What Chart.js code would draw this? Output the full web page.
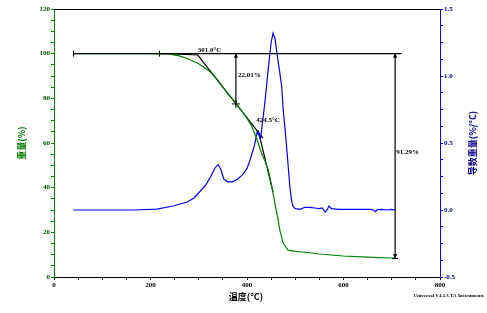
<!DOCTYPE html>
<html>
<head>
<meta charset="utf-8">
<script src="https://cdn.jsdelivr.net/npm/chart.js@4"></script>
<style>
  html, body { margin: 0; padding: 0; background: #fff; }
  #wrap { width: 487px; height: 313px; }
</style>
</head>
<body>
<div id="wrap"><canvas id="tga"></canvas></div>
<script>
// weight curve (%)
const weightTemps = [40, 100, 150, 200, 240, 260, 280, 300, 320, 330, 340, 350, 360, 375, 390, 400, 410, 420, 430, 437, 444, 450, 454, 460, 464, 468, 475, 485, 500, 516, 550, 599, 650, 696, 707];
const weightVals  = [100, 100, 100, 100, 99.8, 99, 97.5, 95.5, 92.5, 90.5, 88, 85, 82, 78.4, 74, 71, 67.5, 62, 55.5, 52, 48, 42, 37.6, 30.5, 26.4, 21, 15.2, 12, 11.5, 11.2, 10.3, 9.4, 8.9, 8.5, 8.5];

// derivative weight (%/°C)
const derivTemps = [40, 165, 213, 247, 276, 290, 303, 315, 325, 333, 340, 346, 352, 360, 370, 380, 390, 400, 406, 412, 416, 421, 425, 428, 432, 437, 442, 446, 450, 454, 458, 462, 467, 472, 475, 479, 483, 486, 489, 492, 495, 500, 510, 520, 530, 540, 550, 556, 562, 566, 570, 575, 590, 620, 655, 662, 666, 670, 680, 690, 700, 707];
const derivVals  = [0, 0, 0.007, 0.03, 0.06, 0.09, 0.14, 0.19, 0.25, 0.31, 0.34, 0.30, 0.23, 0.21, 0.21, 0.23, 0.26, 0.31, 0.37, 0.44, 0.49, 0.58, 0.56, 0.53, 0.65, 0.8, 0.98, 1.12, 1.25, 1.32, 1.28, 1.17, 1.05, 0.92, 0.75, 0.6, 0.43, 0.3, 0.17, 0.08, 0.03, 0.01, 0.005, 0.02, 0.02, 0.015, 0.01, 0.015, -0.015, 0.0, 0.03, 0.01, 0.005, 0.005, 0.005, 0.0, -0.012, 0.003, 0.005, 0.0, 0.005, 0.0];

// analysis construction lines
const baseTemps = [40, 720];
const baseVals = [100, 100];
const onsetTemps = [240, 298, 433];
const onsetVals = [100, 99.4, 62.2];
const steepTemps = [423, 454];
const steepVals = [65.8, 38];
const stepTemps = [377, 377];
const stepVals = [100, 77.5];
const totalTemps = [707, 707];
const totalVals = [100, 8.5];

const xTicks = [0, 200, 400, 600, 800];
const yTicks = [0, 20, 40, 60, 80, 100, 120];
const y2Ticks = [-0.5, 0, 0.5, 1.0, 1.5];

const GREEN = '#008000';
const BLUE = '#0000ff';
const tickFont = { family: 'Liberation Serif', size: 7, weight: 'bold' };

function pts(xs, ys) {
  return xs.map((x, i) => ({ x: x, y: ys[i] }));
}

function line(xs, ys, color, axis) {
  return {
    data: pts(xs, ys), yAxisID: axis, showLine: true, borderColor: color,
    borderWidth: 1.2, pointRadius: 0, tension: 0
  };
}

const extras = {
  id: 'extras',
  afterDatasetsDraw(chart) {
    const { ctx, chartArea: a, scales } = chart;
    const x = scales.x, y = scales.y;
    ctx.save();
    // top frame
    ctx.strokeStyle = '#000';
    ctx.lineWidth = 1;
    ctx.beginPath();
    ctx.moveTo(a.left, a.top + 0.5);
    ctx.lineTo(a.right, a.top + 0.5);
    ctx.stroke();

    // end ticks on baseline
    [40, 218].forEach(t => {
      const px = Math.round(x.getPixelForValue(t)) + 0.5;
      const py = y.getPixelForValue(100);
      ctx.beginPath();
      ctx.moveTo(px, py - 3);
      ctx.lineTo(px, py + 3);
      ctx.stroke();
    });

    function arrow(px, py, dir) {
      ctx.beginPath();
      ctx.moveTo(px, py);
      ctx.lineTo(px - 2, py + dir * 5);
      ctx.lineTo(px + 2, py + dir * 5);
      ctx.closePath();
      ctx.fillStyle = '#000';
      ctx.fill();
    }
    const sx = x.getPixelForValue(377);
    arrow(sx, y.getPixelForValue(100) - 1, 1);
    const my = y.getPixelForValue(77.5);
    ctx.beginPath();
    ctx.moveTo(sx - 4, my); ctx.lineTo(sx + 4, my);
    ctx.moveTo(sx, my - 4); ctx.lineTo(sx, my + 4);
    ctx.stroke();

    const tx = x.getPixelForValue(707);
    arrow(tx, y.getPixelForValue(100) - 1, 1);
    arrow(tx, y.getPixelForValue(8.5) + 1, -1);
    ctx.beginPath();
    ctx.moveTo(tx - 3, y.getPixelForValue(8.5) + 0.5);
    ctx.lineTo(tx + 3, y.getPixelForValue(8.5) + 0.5);
    ctx.stroke();

    // labels
    ctx.fillStyle = '#000';
    ctx.font = 'bold 7px "Liberation Serif"';
    ctx.textBaseline = 'alphabetic';
    ctx.textAlign = 'left';
    ctx.fillText('301.0°C', x.getPixelForValue(298), y.getPixelForValue(100) - 2);
    ctx.fillText('22.01%', sx + 2, y.getPixelForValue(89.5));
    ctx.fillText('424.5°C', x.getPixelForValue(419), y.getPixelForValue(69.5));
    ctx.fillText('91.29%', tx + 1, y.getPixelForValue(55));

    // axis titles
    ctx.font = 'bold 9px "Noto Sans CJK SC"';
    ctx.textAlign = 'center';
    ctx.textBaseline = 'middle';
    ctx.fillStyle = '#000';
    ctx.fillText('温度(°C)', 246, 297);

    ctx.save();
    ctx.translate(22, 143);
    ctx.rotate(-Math.PI / 2);
    ctx.fillStyle = GREEN;
    ctx.fillText('重量(%)', 0, 0);
    ctx.restore();

    ctx.save();
    ctx.translate(473, 143);
    ctx.rotate(-Math.PI / 2);
    ctx.fillStyle = '#00008b';
    ctx.fillText('导数重量(%/°C)', 0, 0);
    ctx.restore();

    ctx.font = 'bold 5px "Liberation Serif"';
    ctx.textAlign = 'right';
    ctx.fillStyle = '#000';
    ctx.fillText('Universal V4.5A TA Instruments', 484, 296);
    ctx.restore();
  }
};

new Chart(document.getElementById('tga'), {
  type: 'scatter',
  data: {
    datasets: [
      line(baseTemps, baseVals, '#000', 'y'),
      line(weightTemps, weightVals, GREEN, 'y'),
      line(derivTemps, derivVals, BLUE, 'y2'),
      line(onsetTemps, onsetVals, '#000', 'y'),
      line(steepTemps, steepVals, '#000', 'y'),
      line(stepTemps, stepVals, '#000', 'y'),
      line(totalTemps, totalVals, '#000', 'y')
    ]
  },
  options: {
    responsive: true,
    maintainAspectRatio: false,
    animation: false,
    layout: { padding: { top: 9, left: 0, right: 0, bottom: 0 } },
    plugins: { legend: { display: false }, tooltip: { enabled: false } },
    scales: {
      x: {
        type: 'linear', min: 0, max: 800,
        border: { color: '#000', width: 1 },
        grid: { drawOnChartArea: false, tickLength: 3, color: '#000' },
        ticks: {
          stepSize: 50, autoSkip: false, maxRotation: 0, padding: 1,
          color: '#000', font: tickFont,
          callback: v => xTicks.includes(v) ? String(v) : ''
        },
        afterFit: s => { s.height = 36; }
      },
      y: {
        position: 'left', min: 0, max: 120,
        border: { color: GREEN, width: 1 },
        grid: { drawOnChartArea: false, tickLength: 3, color: GREEN },
        ticks: {
          stepSize: 5, autoSkip: false, padding: 1,
          color: '#004d00', font: tickFont,
          callback: v => yTicks.includes(v) ? String(v) : ''
        },
        afterFit: s => { s.width = 54; }
      },
      y2: {
        position: 'right', min: -0.5, max: 1.5,
        border: { color: BLUE, width: 1 },
        grid: { drawOnChartArea: false, tickLength: 3, color: BLUE },
        ticks: {
          stepSize: 0.125, autoSkip: false, padding: 1,
          color: '#00008b', font: tickFont,
          callback: v => y2Ticks.includes(v) ? v.toFixed(1) : ''
        },
        afterFit: s => { s.width = 47; }
      }
    }
  },
  plugins: [extras]
});
</script>
</body>
</html>
